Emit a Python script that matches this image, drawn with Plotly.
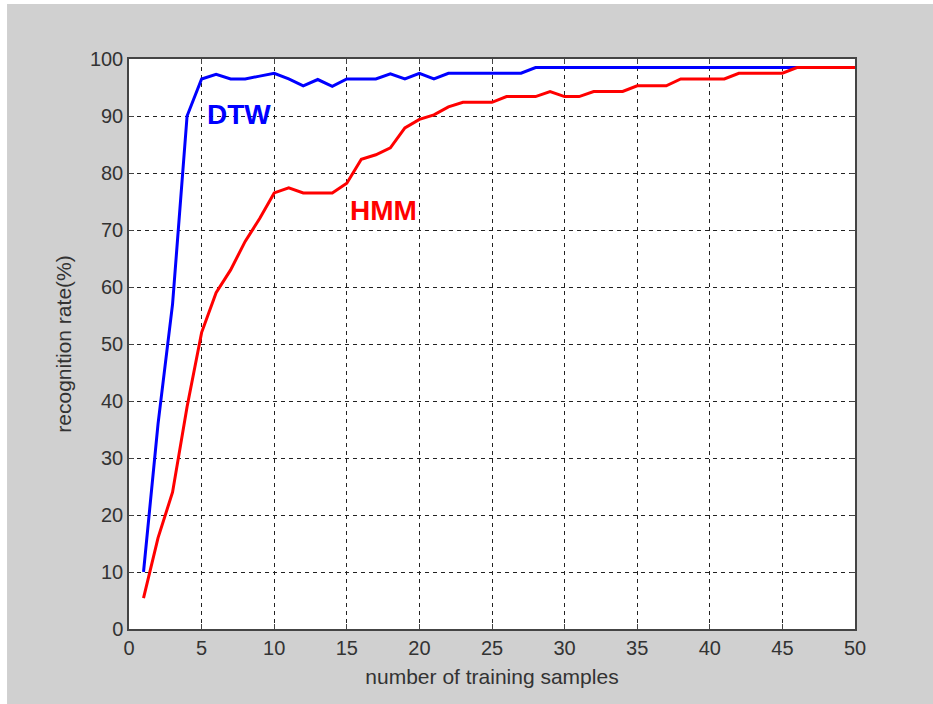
import plotly.graph_objects as go

samples = list(range(1, 51))
dtw = [10, 36, 57, 90, 96.5, 97.3, 96.5, 96.5, 97, 97.5,
       96.5, 95.3, 96.4, 95.2, 96.5, 96.5, 96.5, 97.4, 96.5, 97.5,
       96.5, 97.5, 97.5, 97.5, 97.5, 97.5, 97.5, 98.5, 98.5, 98.5,
       98.5, 98.5, 98.5, 98.5, 98.5, 98.5, 98.5, 98.5, 98.5, 98.5,
       98.5, 98.5, 98.5, 98.5, 98.5, 98.5, 98.5, 98.5, 98.5, 98.5]
hmm = [5.4, 16, 24, 39, 52, 59, 63, 68, 72, 76.5,
       77.4, 76.5, 76.5, 76.5, 78.2, 82.4, 83.2, 84.4, 87.9, 89.4,
       90.2, 91.6, 92.4, 92.4, 92.4, 93.4, 93.4, 93.4, 94.3, 93.4,
       93.4, 94.3, 94.3, 94.3, 95.3, 95.3, 95.3, 96.5, 96.5, 96.5,
       96.5, 97.5, 97.5, 97.5, 97.5, 98.5, 98.5, 98.5, 98.5, 98.5]
x_ticks = list(range(0, 51, 5))
y_ticks = list(range(0, 101, 10))

font_family = "Liberation Sans, Arial, sans-serif"
gray = "#d0d0d0"
text_color = "#333333"

fig = go.Figure()
fig.add_trace(go.Scatter(x=samples, y=dtw, mode="lines", name="DTW",
                         line=dict(color="#0000ff", width=3)))
fig.add_trace(go.Scatter(x=samples, y=hmm, mode="lines", name="HMM",
                         line=dict(color="#ff0000", width=3)))

fig.add_annotation(x=7.58, y=90.2, text="<b>DTW</b>", showarrow=False,
                   font=dict(family=font_family, size=28, color="#0000ff"))
fig.add_annotation(x=17.56, y=73.5, text="<b>HMM</b>", showarrow=False,
                   font=dict(family=font_family, size=28, color="#ff0000"))

axis_common = dict(
    showgrid=True, gridcolor="#222222", griddash="4px,4px", gridwidth=1,
    showline=True, linecolor="#444444", linewidth=1.5, mirror="allticks",
    ticks="inside", ticklen=5, tickcolor="#444444", zeroline=False,
    tickfont=dict(family=font_family, size=20, color=text_color),
)

fig.update_xaxes(range=[0, 50], tickvals=x_ticks,
                 title=dict(text="number of training samples", standoff=12,
                            font=dict(family=font_family, size=21, color=text_color)),
                 **axis_common)
fig.update_yaxes(range=[0, 100], tickvals=y_ticks,
                 title=dict(text="recognition rate(%)", standoff=13,
                            font=dict(family=font_family, size=21, color=text_color)),
                 **axis_common)

# white strips at the left and top edges of the picture
fig.add_shape(type="rect", xref="paper", yref="paper", x0=-0.2, x1=-0.168,
              y0=-0.2, y1=1.2, fillcolor="white", line=dict(width=0), layer="below")
fig.add_shape(type="rect", xref="paper", yref="paper", x0=-0.2, x1=1.2,
              y0=1.0965, y1=1.2, fillcolor="white", line=dict(width=0), layer="below")

fig.update_layout(
    width=933, height=704,
    margin=dict(l=129, r=78, t=59, b=75),
    paper_bgcolor=gray, plot_bgcolor="white",
    showlegend=False,
    font=dict(family=font_family),
)

fig.write_html("out.html")
